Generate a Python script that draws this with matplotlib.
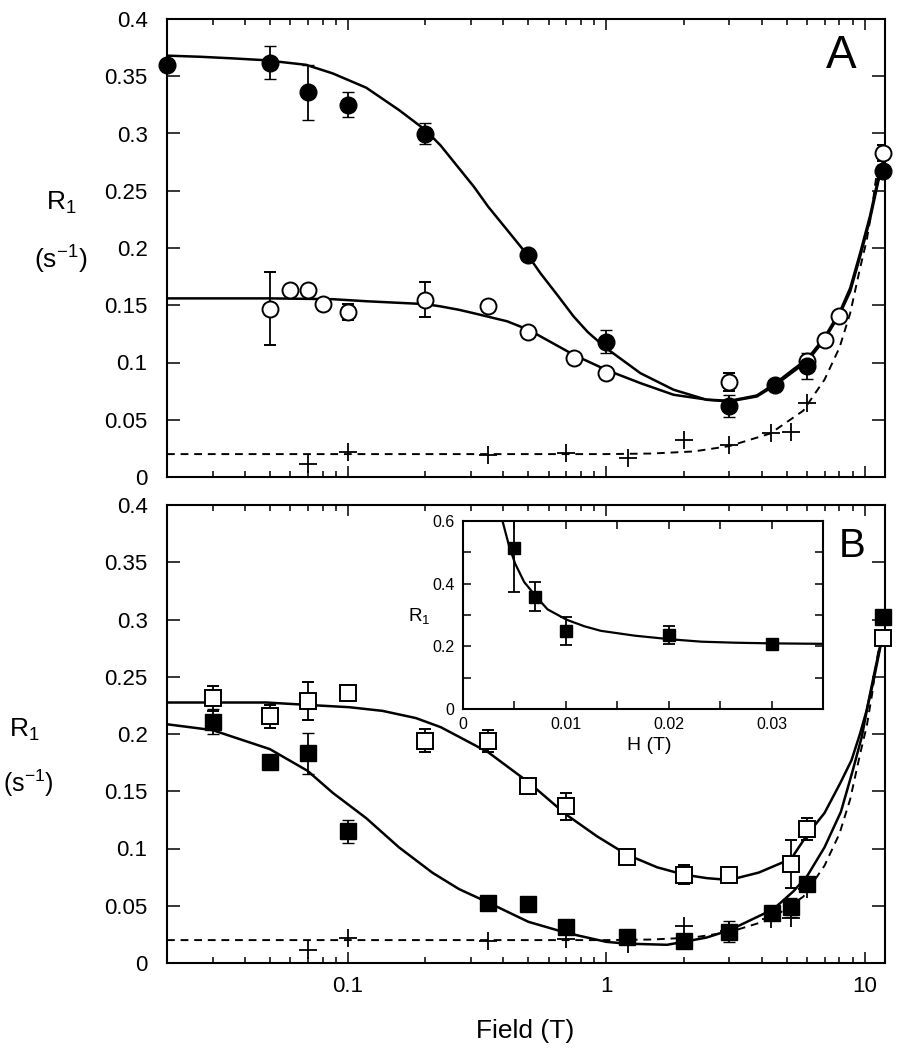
import numpy as np
import matplotlib
matplotlib.use("Agg")
import matplotlib.pyplot as plt
from matplotlib.ticker import FixedLocator, LogLocator, FuncFormatter, NullFormatter, MultipleLocator

plt.rcParams['font.family'] = ['Liberation Sans', 'DejaVu Sans']
plt.rcParams['mathtext.fontset'] = 'custom'
plt.rcParams['mathtext.rm'] = 'Liberation Sans'

# ---- panel A data (field in T, R1 in 1/s) ----
a_fill_x = [0.02, 0.05, 0.07, 0.1, 0.2, 0.5, 1.0, 3.0, 4.5, 6.0, 11.8]
a_fill_y = [0.360, 0.362, 0.336, 0.325, 0.300, 0.194, 0.118, 0.062, 0.080, 0.097, 0.2675]
a_fill_e = [0, 0.014, 0.024, 0.011, 0.009, 0, 0.010, 0.010, 0, 0.011, 0]

a_open_x = [0.05, 0.06, 0.07, 0.08, 0.1, 0.2, 0.35, 0.5, 0.75, 1.0, 3.0, 6.0, 7.0, 8.0, 11.8]
a_open_y = [0.147, 0.163, 0.163, 0.151, 0.144, 0.155, 0.149, 0.127, 0.104, 0.091, 0.083, 0.1015, 0.120, 0.141, 0.283]
a_open_e = [0.032, 0, 0, 0, 0.007, 0.015, 0, 0, 0, 0, 0.008, 0, 0, 0, 0.007]

a_fit_fill_x = [0.02, 0.027, 0.036, 0.048, 0.069, 0.0875, 0.118, 0.158, 0.2, 0.229, 0.27, 0.308, 0.35,
                0.414, 0.502, 0.557, 0.65, 0.75, 0.85, 1.0, 1.357, 1.825, 2.455, 3.0, 3.83, 4.5, 5.3, 6.0,
                7.0, 8.05, 8.8, 9.6, 10.5, 11.3, 11.8]
a_fit_fill_y = [0.368, 0.367, 0.3656, 0.364, 0.360, 0.3525, 0.340, 0.3205, 0.303, 0.2895, 0.2695, 0.2535, 0.236,
                0.2158, 0.1925, 0.178, 0.1585, 0.140, 0.1265, 0.1126, 0.0907, 0.0762, 0.0674, 0.066, 0.0703, 0.080, 0.092, 0.101,
                0.120, 0.143, 0.162, 0.192, 0.225, 0.258, 0.272]

a_fit_open_x = [0.02, 0.05, 0.0875, 0.118, 0.2, 0.229, 0.27, 0.308, 0.414, 0.502, 0.75, 1.0, 1.357,
                1.825, 2.455, 3.0, 3.83, 4.5, 5.3, 6.0, 7.0, 8.05, 8.8, 9.6, 10.5, 11.3, 11.8]
a_fit_open_y = [0.156, 0.156, 0.1553, 0.1535, 0.151, 0.149, 0.146, 0.143, 0.136, 0.1285, 0.1067, 0.0936, 0.082,
                0.0718, 0.0676, 0.0665, 0.0712, 0.0815, 0.094, 0.103, 0.122, 0.145, 0.165, 0.195, 0.228, 0.261, 0.276]

# ---- panel B data ----
b_fill_x = [0.03, 0.05, 0.07, 0.1, 0.35, 0.5, 0.7, 1.2, 2.0, 3.0, 4.4, 5.2, 6.0, 11.8]
b_fill_y = [0.2107, 0.1758, 0.183, 0.115, 0.0528, 0.0518, 0.0318, 0.0223, 0.019, 0.0273, 0.0440, 0.0486, 0.0687, 0.3019]
b_fill_e = [0.011, 0.004, 0.018, 0.010, 0, 0, 0, 0, 0.004, 0.009, 0.005, 0.008, 0, 0.005]

b_open_x = [0.03, 0.05, 0.07, 0.1, 0.2, 0.35, 0.5, 0.7, 1.2, 2.0, 3.0, 5.2, 6.0, 11.8]
b_open_y = [0.2313, 0.2155, 0.2288, 0.2361, 0.1942, 0.1939, 0.1544, 0.1367, 0.0925, 0.0772, 0.0772, 0.0868, 0.117, 0.2838]
b_open_e = [0.011, 0.010, 0.017, 0.007, 0.010, 0.010, 0, 0.012, 0, 0.008, 0, 0.021, 0.010, 0]

b_fit_open_x = [0.02, 0.0484, 0.0755, 0.1015, 0.1364, 0.1837, 0.229, 0.27, 0.35, 0.5, 0.7, 0.923, 1.2,
                1.575, 2.0, 2.455, 3.0, 3.9, 5.2, 6.0, 7.0, 8.05, 8.9, 9.6, 10.2, 10.8, 11.3, 11.8]
b_fit_open_y = [0.2275, 0.2275, 0.225, 0.2234, 0.2202, 0.2139, 0.206, 0.1975, 0.184, 0.158, 0.1297, 0.1106, 0.0948,
                0.0836, 0.0772, 0.0741, 0.0725, 0.079, 0.091, 0.112, 0.131, 0.157, 0.177, 0.2, 0.221, 0.245, 0.267, 0.288]

b_fit_fill_x = [0.02, 0.03, 0.05, 0.07, 0.0875, 0.118, 0.158, 0.213, 0.27, 0.35, 0.5, 0.7, 1.0, 1.2, 1.72,
                2.0, 2.455, 3.0, 4.44, 5.3, 6.0, 7.0, 8.1, 9.0, 9.77, 10.35, 11.0, 11.5, 11.8]
b_fit_fill_y = [0.2085, 0.2034, 0.1868, 0.1678, 0.1487, 0.1265, 0.101, 0.0788, 0.0645, 0.0528, 0.036, 0.0264, 0.0185, 0.0169, 0.0159,
                0.0185, 0.0223, 0.0286, 0.047, 0.0625, 0.076, 0.101, 0.132, 0.168, 0.198, 0.228, 0.257, 0.277, 0.29]

# background (diamagnetic) points and dashed curve, same in both panels
bg_pts_x = [0.07, 0.1, 0.35, 0.7, 1.22, 2.0, 3.0, 4.36, 5.2, 6.0]
bg_pts_y = [0.011, 0.022, 0.019, 0.021, 0.0165, 0.032, 0.0276, 0.038, 0.039, 0.065]
bg_fit_x = [0.02, 1.0, 1.5, 2.18, 3.0, 4.32, 5.8, 6.0, 7.0, 8.0, 8.8, 9.6, 10.2, 10.7, 11.0, 11.3, 11.6]
bg_fit_y = [0.020, 0.020, 0.0205, 0.0223, 0.027, 0.038, 0.058, 0.063, 0.085, 0.113, 0.143, 0.182, 0.207, 0.235, 0.256, 0.272, 0.285]

# ---- inset (low field) ----
ins_h = [0.005, 0.007, 0.01, 0.02, 0.03]
ins_r = [0.513, 0.359, 0.250, 0.237, 0.207]
ins_e = [0.138, 0.045, 0.045, 0.028, 0]
ins_fit_h = [0.0036, 0.00384, 0.00449, 0.00507, 0.00595, 0.00718, 0.00822, 0.01007, 0.0118, 0.0134,
             0.0167, 0.0202, 0.0232, 0.0264, 0.0301, 0.035]
ins_fit_r = [0.68, 0.6, 0.519, 0.464, 0.405, 0.356, 0.318, 0.285, 0.264, 0.2495,
             0.234, 0.2224, 0.2148, 0.2116, 0.2094, 0.208]

W, H = 914, 1050
fig = plt.figure(figsize=(W / 100, H / 100), dpi=100)
axA = fig.add_axes([167 / W, 1 - 477 / H, 718 / W, 458 / H])
axB = fig.add_axes([167 / W, 1 - 963 / H, 718 / W, 458 / H])
ins = fig.add_axes([463 / W, 1 - 709 / H, 360 / W, 188 / H])

fmt_g = FuncFormatter(lambda v, p: '%g' % round(v, 4))


def style_main(ax, show_x):
    ax.set_xscale('log')
    ax.set_xlim(0.02, 12)
    ax.set_ylim(0, 0.4)
    ax.yaxis.set_major_locator(MultipleLocator(0.05))
    ax.yaxis.set_major_formatter(fmt_g)
    ax.xaxis.set_major_locator(FixedLocator([0.1, 1, 10]))
    ax.xaxis.set_minor_locator(LogLocator(base=10, subs=np.arange(2, 10)))
    ax.xaxis.set_major_formatter(fmt_g)
    ax.xaxis.set_minor_formatter(NullFormatter())
    ax.tick_params(which='both', direction='in', top=True, right=True, width=1.1, colors='k')
    ax.tick_params(axis='y', which='major', length=9.5, labelsize=16, pad=14)
    ax.tick_params(axis='x', which='major', length=8, labelsize=16, pad=9)
    ax.tick_params(axis='x', which='minor', length=4.5)
    if not show_x:
        ax.tick_params(axis='x', labelbottom=False)
    for s in ax.spines.values():
        s.set_linewidth(1.5)


eb = dict(ecolor='k', elinewidth=1.3, capsize=4, capthick=1.3, ls='none', zorder=4)


def draw_panel(ax, fits, fill, opn, marker, ms_fill, ms_open):
    ax.plot(bg_fit_x, bg_fit_y, color='k', lw=1.4, ls=(0, (4, 3)), zorder=2)
    for fx, fy in fits:
        ax.plot(fx, fy, color='k', lw=1.8, zorder=2)
    ax.plot(bg_pts_x, bg_pts_y, '+', color='k', ms=13, mew=1.3, ls='none', zorder=3)
    for d, face, mew in ((opn, 'white', 1.4), (fill, 'k', 1.0)):
        cont = ax.errorbar(d[0], d[1], yerr=d[2], fmt=marker, ms=ms_fill if face == 'k' else ms_open,
                           mfc=face, mec='k', mew=mew, **eb)
        cont[0].set_clip_on(False)


style_main(axA, False)
draw_panel(axA, [(a_fit_fill_x, a_fit_fill_y), (a_fit_open_x, a_fit_open_y)],
           (a_fill_x, a_fill_y, a_fill_e), (a_open_x, a_open_y, a_open_e), 'o', 12, 11.5)

style_main(axB, True)
draw_panel(axB, [(b_fit_fill_x, b_fit_fill_y), (b_fit_open_x, b_fit_open_y)],
           (b_fill_x, b_fill_y, b_fill_e), (b_open_x, b_open_y, b_open_e), 's', 12, 11)

# inset
ins.plot(ins_fit_h, ins_fit_r, color='k', lw=1.6, zorder=2)
ins.errorbar(ins_h, ins_r, yerr=ins_e, fmt='s', ms=9, mfc='k', mec='k', **eb)
ins.set_xlim(0, 0.035)
ins.set_ylim(0, 0.6)
ins.xaxis.set_major_locator(MultipleLocator(0.005))
ins.xaxis.set_major_formatter(FuncFormatter(
    lambda v, p: ('%g' % round(v, 4)) if abs(v / 0.01 - round(v / 0.01)) < 1e-6 else ''))
ins.yaxis.set_major_locator(MultipleLocator(0.1))
ins.yaxis.set_major_formatter(FuncFormatter(
    lambda v, p: ('%g' % round(v, 4)) if abs(v / 0.2 - round(v / 0.2)) < 1e-6 else ''))
ins.tick_params(direction='in', top=True, right=True, length=6, width=1.1, labelsize=11.5, pad=6)
for s in ins.spines.values():
    s.set_linewidth(1.5)

# labels
fig.text(61 / W, 1 - 203 / H, r'R$_{\mathregular{1}}$', fontsize=19, ha='center', va='center')
fig.text(61 / W, 1 - 259 / H, r'(s$^{\mathregular{-1}}$)', fontsize=19, ha='center', va='center')
fig.text(24 / W, 1 - 730 / H, r'R$_{\mathregular{1}}$', fontsize=19, ha='center', va='center')
fig.text(28 / W, 1 - 783 / H, r'(s$^{\mathregular{-1}}$)', fontsize=18, ha='center', va='center')
fig.text(419 / W, 1 - 617 / H, r'R$_{\mathregular{1}}$', fontsize=13.5, ha='center', va='center')
fig.text(649 / W, 1 - 745 / H, 'H (T)', fontsize=14, ha='center', va='center')
fig.text(525 / W, 1 - 1031 / H, 'Field (T)', fontsize=19, ha='center', va='center')
fig.text(841 / W, 1 - 56 / H, 'A', fontsize=33, ha='center', va='center')
fig.text(852 / W, 1 - 546 / H, 'B', fontsize=29, ha='center', va='center')

fig.savefig('out.png', dpi=100, facecolor='white')
